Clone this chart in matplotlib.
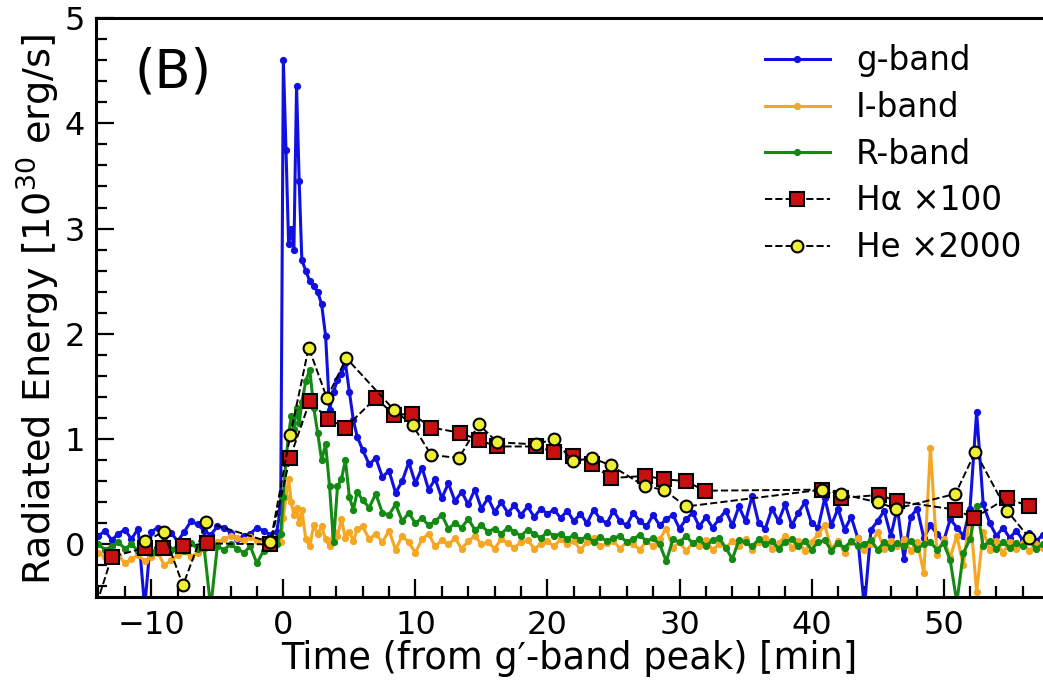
import matplotlib

matplotlib.use("Agg")

import matplotlib.pyplot as plt
from matplotlib.ticker import MultipleLocator

# broadband light curves share one time grid [min from g'-band peak]
t_bb = [
    -14.0, -13.5, -13.0, -12.5, -12.0, -11.5, -11.0, -10.5, -10.0, -9.5,
    -9.0, -8.5, -8.0, -7.5, -7.0, -6.5, -6.0, -5.5, -5.0, -4.5,
    -4.0, -3.5, -3.0, -2.5, -2.0, -1.5, -1.0, -0.5,
    -0.2, 0.0, 0.2, 0.4, 0.6, 0.8, 1.0, 1.2, 1.4, 1.7,
    2.0, 2.3, 2.6, 2.9, 3.2, 3.5, 3.8, 4.1, 4.4, 4.7,
    5.0, 5.3, 5.6,
    6.0, 6.5, 7.0, 7.5, 8.0, 8.5, 9.0, 9.5, 10.0, 10.5,
    11.0, 11.5, 12.0, 12.5, 13.0, 13.5, 14.0, 14.5, 15.0, 15.5,
    16.0, 16.5, 17.0, 17.5, 18.0, 18.5, 19.0, 19.5, 20.0, 20.5,
    21.0, 21.5, 22.0, 22.5, 23.0, 23.5, 24.0, 24.5, 25.0, 25.5,
    26.0, 26.5, 27.0, 27.5, 28.0, 28.5, 29.0, 29.5, 30.0, 30.5,
    31.0, 31.5, 32.0, 32.5, 33.0, 33.5, 34.0, 34.5, 35.0, 35.5,
    36.0, 36.5, 37.0, 37.5, 38.0, 38.5, 39.0, 39.5, 40.0, 40.5,
    41.0, 41.5, 42.0, 42.5, 43.0, 43.5, 44.0, 44.5, 45.0, 45.5,
    46.0, 46.5, 47.0, 47.5, 48.0, 48.5, 49.0, 49.5, 50.0, 50.5,
    51.0, 51.5, 52.0, 52.5, 53.0, 53.5, 54.0, 54.5, 55.0, 55.5,
    56.0, 56.5, 57.0, 57.5,
]

g_band = [
    0.08, 0.13, 0.04, 0.10, 0.14, 0.05, 0.15, -0.60, 0.12, 0.16,
    0.07, 0.11, 0.03, 0.12, 0.22, 0.19, 0.13, 0.09, 0.17, 0.16,
    0.11, 0.05, 0.08, 0.10, 0.16, 0.13, 0.09, 0.12,
    0.35, 4.60, 3.75, 2.85, 3.00, 2.80, 4.35, 3.45, 2.70, 2.60,
    2.50, 2.45, 2.40, 2.28, 1.98, 1.28, 1.45, 1.56, 1.62, 1.72,
    1.45, 1.18, 1.02,
    0.90, 0.76, 0.82, 0.64, 0.70, 0.49, 0.60, 0.78, 0.58, 0.73,
    0.52, 0.62, 0.44, 0.58, 0.41, 0.50, 0.38, 0.52, 0.34, 0.44,
    0.31, 0.40, 0.30, 0.37, 0.28, 0.36, 0.26, 0.34, 0.29, 0.33,
    0.25, 0.32, 0.22, 0.29, 0.20, 0.33, 0.24, 0.20, 0.32, 0.22,
    0.18, 0.30, 0.22, 0.17, 0.28, 0.18, 0.24, 0.28, 0.15, 0.24,
    0.30, 0.17, 0.26, 0.16, 0.24, 0.32, 0.18, 0.36, 0.22, 0.46,
    0.20, 0.15, 0.34, 0.22, 0.38, 0.18, 0.30, 0.40, 0.20, 0.16,
    0.44, 0.18, 0.34, 0.14, 0.26, 0.06, -0.60, 0.14, 0.22, 0.32,
    0.08, 0.35, -0.14, 0.26, 0.34, 0.06, 0.18, 0.10, 0.03, 0.24,
    0.16, 0.08, 0.34, 1.26, 0.38, 0.20, 0.08, 0.16, 0.06, 0.13,
    0.04, 0.11, 0.03, 0.09,
]

i_band = [
    -0.08, -0.12, -0.15, -0.10, -0.18, -0.14, -0.10, -0.16, -0.12, -0.08,
    -0.20, -0.15, -0.10, -0.06, -0.12, -0.08, -0.04, -0.02, 0.02, 0.05,
    0.08, 0.06, 0.04, 0.07, 0.03, 0.05, 0.02, 0.00,
    0.02, 0.25, 0.45, 0.62, 0.40, 0.28, 0.35, 0.20, 0.33, 0.05,
    -0.02, 0.18, 0.10, 0.17, 0.05, -0.02, 0.12, 0.08, 0.24, 0.06,
    0.12, 0.03, 0.15,
    0.17, 0.05, 0.10, 0.02, 0.13, -0.05, 0.08, 0.02, -0.08, 0.05,
    0.10, -0.02, 0.04, 0.00, 0.06, -0.04, 0.03, 0.08, 0.00, 0.02,
    -0.04, 0.05, 0.01, -0.03, 0.02, 0.04, -0.04, 0.00, 0.03, -0.02,
    0.05, 0.00, 0.03, -0.05, 0.02, 0.06, -0.02, 0.01, 0.03, -0.04,
    0.02, 0.00, -0.05, 0.03, -0.02, 0.05, 0.15, -0.03, 0.02, -0.06,
    0.01, -0.02, 0.04, -0.05, 0.00, -0.03, 0.03, -0.02, 0.05, -0.05,
    0.02, 0.06, -0.04, 0.01, 0.08, -0.03, 0.03, -0.06, 0.02, 0.10,
    0.18, -0.04, 0.03, -0.08, 0.02, 0.06, -0.05, 0.00, 0.12, -0.04,
    0.03, -0.02, 0.05, -0.06, 0.02, -0.27, 0.92, -0.10, 0.05, -0.12,
    0.08, -0.20, 0.30, -0.45, 0.12, -0.05, 0.03, -0.08, 0.02, -0.04,
    0.01, -0.06, 0.00, -0.03,
]

r_band = [
    0.00, -0.05, -0.02, 0.02, -0.04, 0.00, -0.06, -0.02, -0.08, -0.03,
    0.00, -0.05, -0.02, -0.06, 0.01, -0.04, -0.03, -0.60, -0.02, -0.05,
    0.00, -0.04, -0.08, -0.02, -0.18, -0.06, -0.03, 0.00,
    0.10, 0.45, 0.80, 1.05, 1.22, 1.10, 1.30, 1.15, 1.35, 1.55,
    1.66, 1.30, 1.06, 0.80, 0.95, 0.55, 0.02, 0.55, 0.62, 0.80,
    0.45, 0.33, 0.50,
    0.42, 0.35, 0.48, 0.30, 0.28, 0.38, 0.22, 0.30, 0.20, 0.25,
    0.18, 0.22, 0.28, 0.15, 0.20, 0.16, 0.24, 0.14, 0.18, 0.12,
    0.15, 0.10, 0.16, 0.12, 0.08, 0.14, 0.10, 0.06, 0.12, 0.08,
    0.10, 0.05, 0.09, 0.04, 0.08, 0.02, 0.07, 0.03, 0.06, 0.08,
    0.02, 0.05, 0.09, 0.03, 0.06, 0.00, -0.16, 0.05, 0.02, 0.08,
    0.01, 0.05, -0.02, 0.04, 0.06, -0.03, -0.14, 0.04, 0.02, -0.02,
    0.05, 0.00, 0.03, -0.04, 0.02, 0.05, -0.02, 0.03, -0.05, 0.02,
    0.04, -0.06, 0.01, -0.03, 0.03, -0.02, 0.00, 0.04, -0.05, 0.02,
    -0.03, 0.01, -0.02, 0.03, -0.04, 0.00, 0.02, -0.05, 0.01, -0.15,
    -0.55, -0.08, 0.05, 0.36, -0.02, 0.03, -0.04, 0.02, -0.03, 0.01,
    -0.02, 0.03, -0.04, 0.00,
]

# spectroscopic lines (scaled)
t_ha = [-14.6, -13.0, -10.45, -9.1, -7.6, -5.8, -1.0, 0.5, 2.0, 3.4,
        4.7, 7.0, 8.4, 9.75, 11.2, 13.4, 14.8, 16.2, 19.1, 20.5,
        21.9, 23.4, 24.8, 27.4, 28.8, 30.5, 31.9, 40.8, 42.2, 45.1,
        46.5, 50.9, 52.3, 54.8, 56.5]
ha_x100 = [-0.75, -0.12, -0.03, -0.03, -0.02, 0.01, 0.00, 0.82, 1.36, 1.19,
           1.11, 1.39, 1.23, 1.24, 1.11, 1.06, 0.99, 0.93, 0.93, 0.88,
           0.84, 0.76, 0.63, 0.65, 0.62, 0.60, 0.51, 0.52, 0.44, 0.47,
           0.41, 0.33, 0.25, 0.44, 0.36]

t_he = [-10.45, -9.07, -7.6, -5.83, -0.98, 0.53, 1.92, 3.3, 4.77, 8.36,
        9.8, 11.2, 13.3, 14.8, 16.2, 19.1, 20.5, 21.9, 23.4, 24.8,
        27.4, 28.8, 30.5, 40.8, 42.2, 45.0, 46.4, 50.9, 52.4, 54.8,
        56.5]
he_x2000 = [0.03, 0.12, -0.39, 0.21, 0.02, 1.04, 1.87, 1.39, 1.77, 1.28,
            1.13, 0.85, 0.82, 1.14, 0.97, 0.95, 1.00, 0.79, 0.82, 0.75,
            0.55, 0.52, 0.36, 0.52, 0.48, 0.40, 0.34, 0.48, 0.88, 0.32,
            0.06]

plt.rcParams["font.family"] = ["DejaVu Sans"]

fig = plt.figure(figsize=(10.43, 6.82), dpi=100)
ax = fig.add_axes([0.092, 0.1246, 0.914, 0.849])

band_style = dict(marker="o", markersize=4.2, linewidth=2.2)
ax.plot(t_bb, g_band, color="#1010e0", label="g-band", **band_style)
ax.plot(t_bb, i_band, color="#f5a623", label="I-band", **band_style)
ax.plot(t_bb, r_band, color="#148a14", label="R-band", **band_style)
ax.plot(t_ha, ha_x100, color="black", linestyle="--", linewidth=1.4,
        marker="s", markersize=10, markerfacecolor="#c81010",
        markeredgecolor="black", markeredgewidth=1.5, label="H\u03b1 \u00d7100")
ax.plot(t_he, he_x2000, color="black", linestyle="--", linewidth=1.4,
        marker="o", markersize=8.5, markerfacecolor="#eeee33",
        markeredgecolor="black", markeredgewidth=1.5, label="He \u00d72000")

ax.set_xlim(-14.19, 58.0)
ax.set_ylim(-0.5, 5.0)
ax.xaxis.set_major_locator(MultipleLocator(10))
ax.xaxis.set_minor_locator(MultipleLocator(2))
ax.yaxis.set_major_locator(MultipleLocator(1))
ax.yaxis.set_minor_locator(MultipleLocator(0.2))
ax.tick_params(which="both", direction="in", top=False, right=False, width=1.6)
ax.tick_params(which="major", length=13, labelsize=23)
ax.tick_params(which="minor", length=8)
ax.tick_params(axis="x", which="major", pad=9)
ax.tick_params(axis="y", which="major", pad=8)
for side in ("left", "bottom", "top", "right"):
    ax.spines[side].set_linewidth(2.2)

ax.set_xlabel("Time (from g\u2032-band peak) [min]", fontsize=26.5)
ax.set_ylabel("Radiated Energy [10$^{30}$ erg/s]", fontsize=27.5)
ax.xaxis.set_label_coords(0.497, -0.074)
ax.yaxis.set_label_coords(-0.036, 0.496)

ax.text(0.04, 0.95, "(B)", transform=ax.transAxes, fontsize=38,
        va="top", ha="left")

ax.legend(loc="upper left", bbox_to_anchor=(0.733, 0.935),
          bbox_transform=fig.transFigure, frameon=False, fontsize=23.5,
          handlelength=2.0, handletextpad=0.8, labelspacing=0.42,
          borderpad=0, borderaxespad=0)

fig.savefig("out.png", dpi=100)
plt.close(fig)
